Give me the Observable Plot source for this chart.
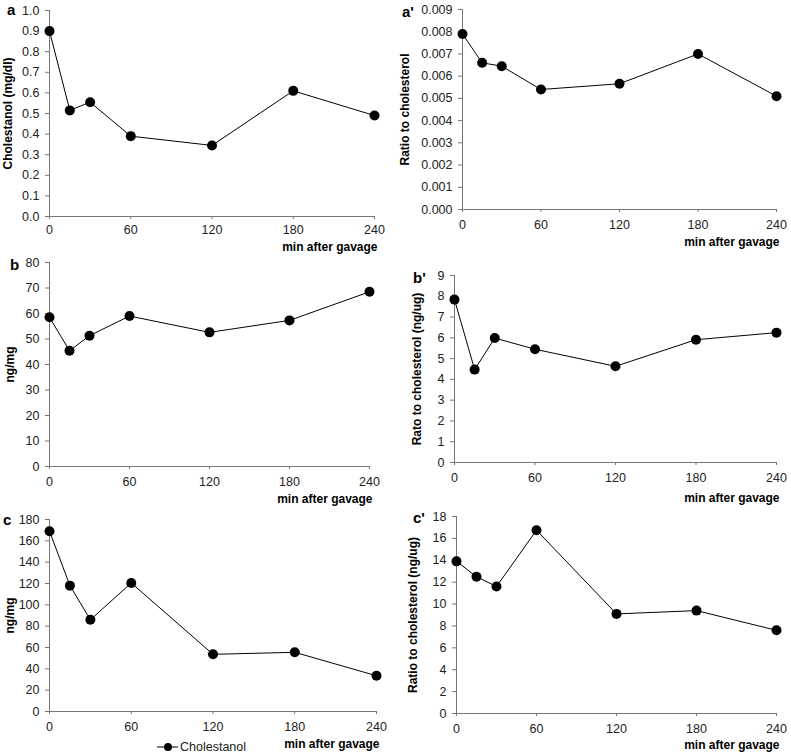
<!DOCTYPE html>
<html><head><meta charset="utf-8">
<script src="https://cdn.jsdelivr.net/npm/d3@7"></script>
<script src="https://cdn.jsdelivr.net/npm/@observablehq/plot@0.6"></script>
<style>
body{margin:0;background:#fff;font-family:"Liberation Sans",Arial,sans-serif;}
#root{position:relative;width:791px;height:755px;overflow:hidden;}
.panel{position:absolute;}
.lbl{position:absolute;font-weight:bold;font-size:15px;color:#000;line-height:1;}
.legend{position:absolute;left:157px;top:740px;font-size:12.5px;color:#222;display:flex;align-items:center;}
</style></head><body><div id="root"></div>
<script>
const minutes = [0, 15, 30, 60, 120, 180, 240];
const xTicks = [0, 60, 120, 180, 240];

const plasmaMgDl = [0.90, 0.515, 0.555, 0.39, 0.345, 0.61, 0.49];
const plasmaRatio = [0.0079, 0.0066, 0.00645, 0.0054, 0.00566, 0.0070, 0.0051];
const bNgMg = [58.5, 45.4, 51.3, 59.0, 52.6, 57.3, 68.5];
const bRatio = [7.84, 4.47, 5.99, 5.45, 4.63, 5.91, 6.25];
const cNgMg = [169, 118, 86, 120.5, 53.6, 55.5, 33.5];
const cRatio = [13.9, 12.5, 11.6, 16.75, 9.1, 9.4, 7.6];

const yTicksA = [0, 0.1, 0.2, 0.3, 0.4, 0.5, 0.6, 0.7, 0.8, 0.9, 1.0];
const yTicksA2 = [0, 0.001, 0.002, 0.003, 0.004, 0.005, 0.006, 0.007, 0.008, 0.009];
const yTicksB = [0, 10, 20, 30, 40, 50, 60, 70, 80];
const yTicksB2 = [0, 1, 2, 3, 4, 5, 6, 7, 8, 9];
const yTicksC = [0, 20, 40, 60, 80, 100, 120, 140, 160, 180];
const yTicksC2 = [0, 2, 4, 6, 8, 10, 12, 14, 16, 18];

const panelLetters = ["a", "a'", "b", "b'", "c", "c'"];
const yTitles = ["Cholestanol (mg/dl)", "Ratio to cholesterol", "ng/mg", "Rato to cholesterol (ng/ug)", "ng/mg", "Ratio to cholesterol (ng/ug)"];
const xTitle = "min after gavage";
const legendLabel = "Cholestanol";

const panels = [
  {values: plasmaMgDl, ticks: yTicksA, fmt: ".1f", left: 0, top: 0, w: 395, h: 250, mL: 49, mR: 21, mT: 10, mB: 34, ytDx: -41, xtDy: 34, xPad: 6, letter: [7, 2]},
  {values: plasmaRatio, ticks: yTicksA2, fmt: ".3f", left: 395, top: 0, w: 396, h: 250, mL: 67, mR: 15, mT: 9, mB: 41, ytDx: -57, xtDy: 36, xPad: 8, letter: [402, 4]},
  {values: bNgMg, ticks: yTicksB, fmt: "d", left: 0, top: 250, w: 395, h: 250, mL: 49, mR: 26, mT: 12, mB: 34, ytDx: -39, xtDy: 36, xPad: 8, letter: [10, 257]},
  {values: bRatio, ticks: yTicksB2, fmt: "d", left: 395, top: 250, w: 396, h: 250, mL: 59, mR: 15, mT: 25, mB: 38, ytDx: -37, xtDy: 39, xPad: 8, letter: [413, 270]},
  {values: cNgMg, ticks: yTicksC, fmt: "d", left: 0, top: 500, w: 395, h: 255, mL: 49, mR: 19, mT: 19, mB: 44, ytDx: -39, xtDy: 36, xPad: 8, letter: [3, 512]},
  {values: cRatio, ticks: yTicksC2, fmt: "d", left: 395, top: 500, w: 396, h: 255, mL: 61, mR: 15, mT: 16, mB: 42, ytDx: -43, xtDy: 35, xPad: 8, letter: [413, 510]}
];

const root = document.getElementById("root");
const axisColor = "#777";
const textColor = "#222";

panels.forEach((cfg, i) => {
  const data = minutes.map((m, k) => ({m, v: cfg.values[k]}));
  const lo = cfg.ticks[0], hi = cfg.ticks[cfg.ticks.length - 1];
  const svg = Plot.plot({
    width: cfg.w, height: cfg.h,
    marginLeft: cfg.mL, marginRight: cfg.mR, marginTop: cfg.mT, marginBottom: cfg.mB,
    style: {background: "transparent", overflow: "visible", fontFamily: '"Liberation Sans", Arial, sans-serif', fontSize: "12.5px"},
    x: {domain: [0, 240]},
    y: {domain: [lo, hi]},
    marks: [
      Plot.axisX({ticks: xTicks, tickSize: 3, tickPadding: cfg.xPad, label: null, stroke: axisColor, fill: textColor}),
      Plot.axisY({ticks: cfg.ticks, tickSize: 4, tickPadding: 6, tickFormat: d3.format(cfg.fmt), label: null, stroke: axisColor, fill: textColor}),
      Plot.ruleY([lo], {stroke: axisColor}),
      Plot.ruleX([0], {stroke: axisColor}),
      Plot.line(data, {x: "m", y: "v", stroke: "#000", strokeWidth: 1}),
      Plot.dot(data, {x: "m", y: "v", r: 5, fill: "#000", stroke: "none"}),
      Plot.text([yTitles[i]], {frameAnchor: "left", textAnchor: "middle", lineAnchor: "middle", rotate: -90, dx: cfg.ytDx, fontWeight: "bold", fontSize: 12, fill: "#000"}),
      Plot.text([xTitle], {frameAnchor: "bottom-right", textAnchor: "end", lineAnchor: "bottom", dx: 3, dy: cfg.xtDy, fontWeight: "bold", fontSize: 12, fill: "#000"})
    ]
  });
  svg.classList.add("panel");
  svg.style.left = cfg.left + "px";
  svg.style.top = cfg.top + "px";
  svg.style.position = "absolute";
  root.appendChild(svg);

  const lbl = document.createElement("div");
  lbl.className = "lbl";
  lbl.textContent = panelLetters[i];
  lbl.style.left = cfg.letter[0] + "px";
  lbl.style.top = cfg.letter[1] + "px";
  root.appendChild(lbl);
});

const legend = document.createElement("div");
legend.className = "legend";
legend.innerHTML = '<svg width="22" height="12" style="margin-right:1px"><line x1="0" y1="6" x2="21" y2="6" stroke="#000" stroke-width="1"/><circle cx="11" cy="6" r="4" fill="#000"/></svg><span></span>';
legend.querySelector("span").textContent = legendLabel;
root.appendChild(legend);
</script>
</body></html>
